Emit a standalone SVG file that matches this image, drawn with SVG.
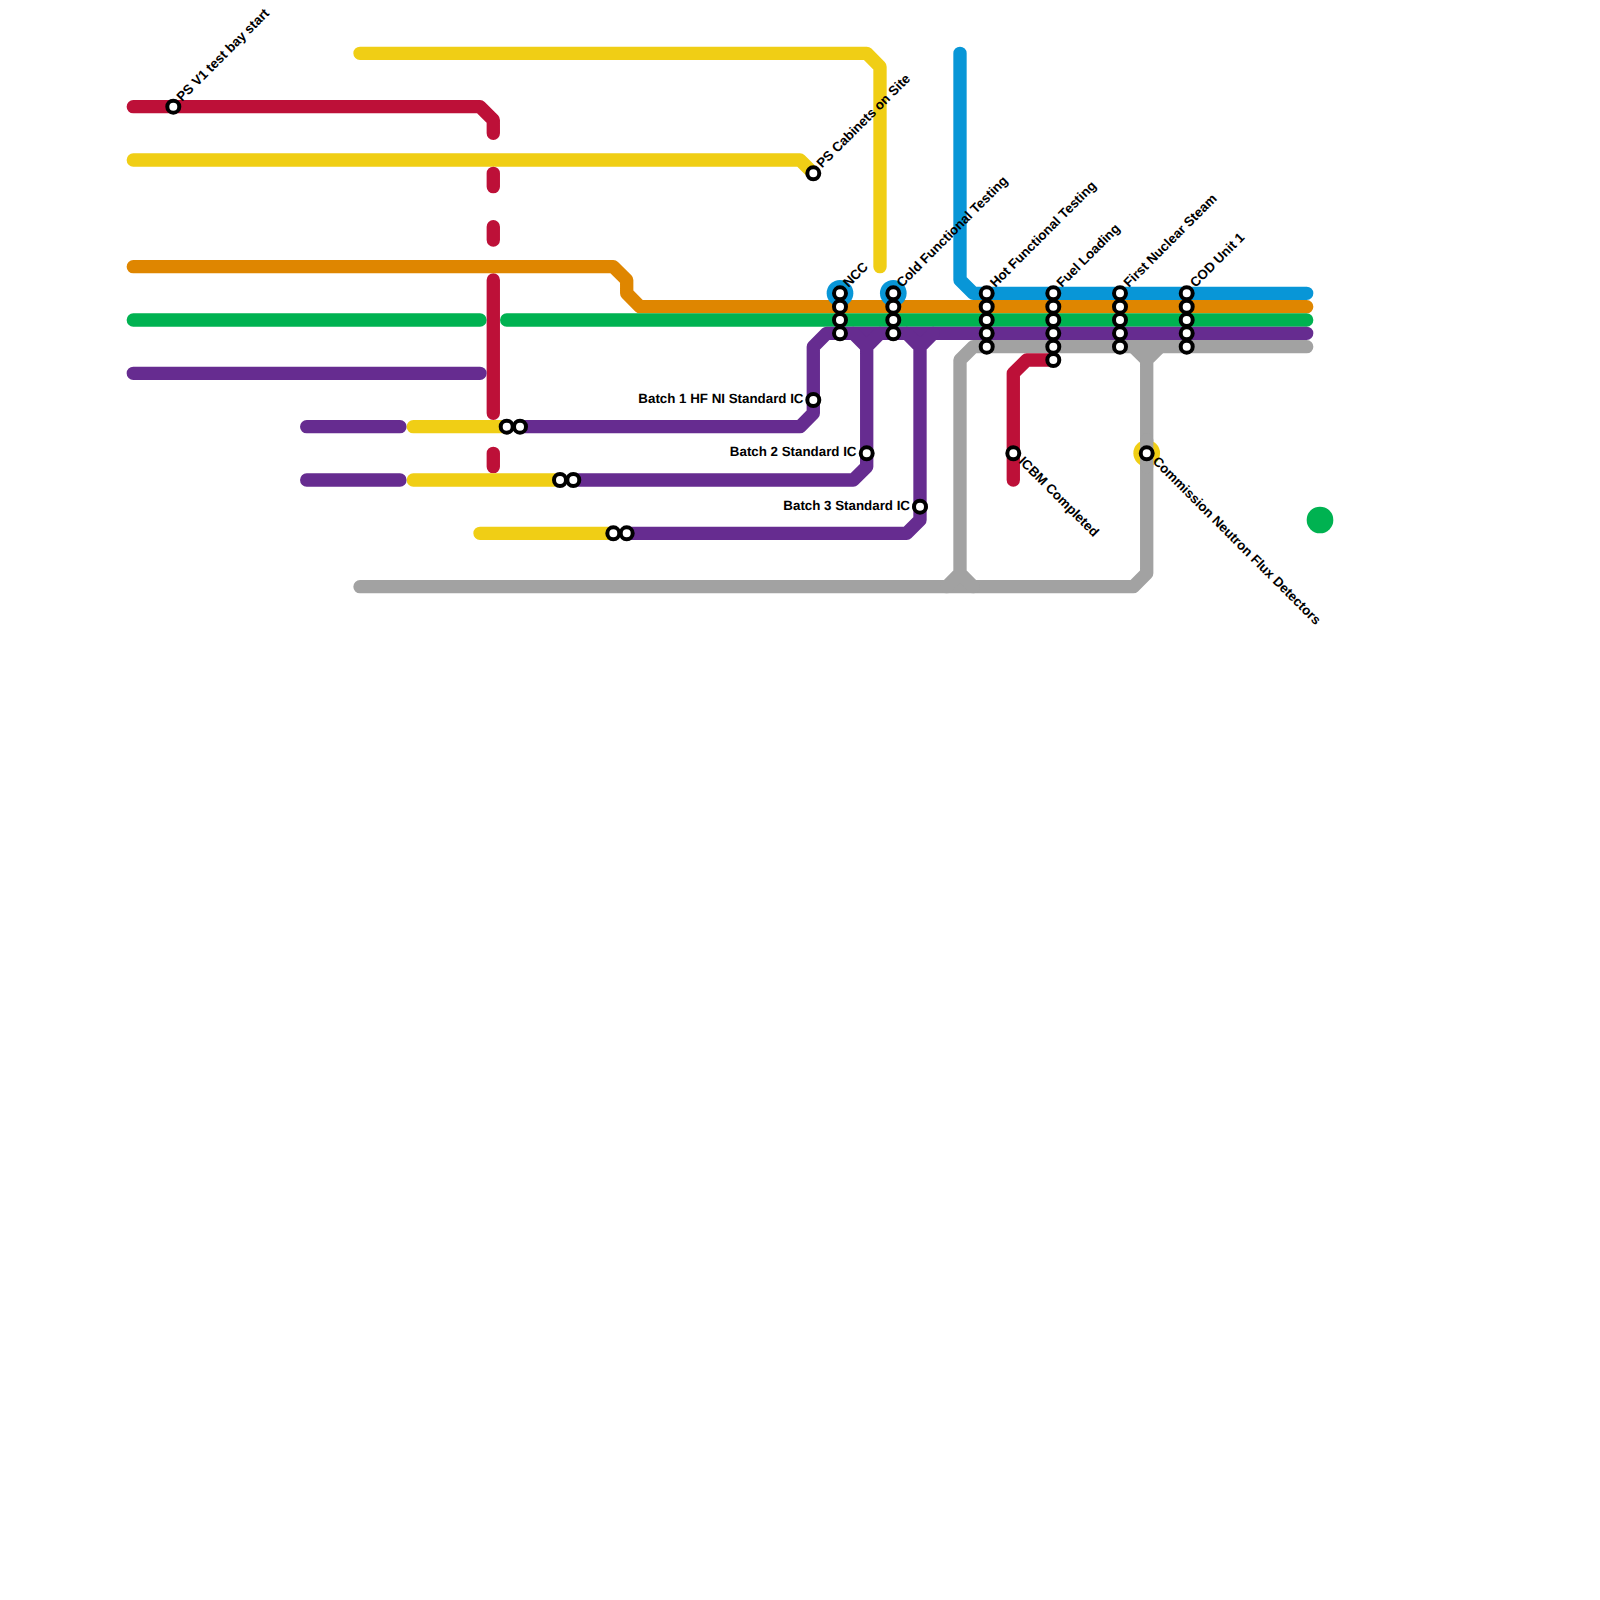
<svg xmlns="http://www.w3.org/2000/svg" width="1600" height="1600" viewBox="0 0 1600 1600">
<style>
.l{fill:none;stroke-width:13.33;stroke-linecap:round;stroke-linejoin:round}
.red{stroke:#bd1038}.yel{stroke:#f0ce15}.ora{stroke:#df8600}.gre{stroke:#00b251}.pur{stroke:#662c90}.gry{stroke:#a2a2a2}.blu{stroke:#0896d7}
.s{fill:#fff;stroke:#000;stroke-width:4}
text{font-family:"Liberation Sans",Arial,sans-serif;font-size:13.33px;font-weight:700;fill:#000;text-rendering:geometricPrecision}
</style>
<rect width="1600" height="1600" fill="#fff"/>
<g id="connectors">
<path class="l blu" d="M960 53.3V280L973.3 293.3H1306.7"/>
<path class="l yel" d="M360 53.3H866.7L880 66.7V266.7"/>
<path class="l yel" d="M133.3 160H800L813.3 173.3"/>
<path class="l red" d="M133.3 106.7H480L493.3 120V133.3"/>
<path class="l red" d="M493.3 173.3V186.7M493.3 226.7V240M493.3 280V413.3M493.3 453.3V466.7"/>
<path class="l ora" d="M133.3 266.7H613.3L626.7 280V293.3L640 306.7H1306.7"/>
<path class="l gre" d="M133.3 320H480M506.7 320H1306.7"/>
<path class="l pur" d="M133.3 373.3H480M306.7 426.7H400M306.7 480H400"/>
<path class="l yel" d="M413.3 426.7H506.7M413.3 480H560M480 533.3H613.3"/>
<path class="l pur" d="M520 426.7H800L813.3 413.3V346.7L826.7 333.3H1306.7"/>
<path class="l pur" d="M573.3 480H853.3L866.7 466.7V346.7L853.3 333.3M866.7 346.7L880 333.3"/>
<path class="l pur" d="M626.7 533.3H906.7L920 520V346.7L906.7 333.3M920 346.7L933.3 333.3"/>
<path class="l gry" d="M360 586.7H1133.3L1146.7 573.3V360L1133.3 346.7M1146.7 360L1160 346.7"/>
<path class="l gry" d="M946.7 586.7L960 573.3V360L973.3 346.7H1306.7M960 573.3L973.3 586.7"/>
<path class="l red" d="M1013.3 480V373.3L1026.7 360H1053.3"/>
</g>
<g id="node-ps-v1"><circle class="s" cx="173.3" cy="106.7" r="6"/><text transform="translate(182 102) rotate(-45)">PS V1 test bay start</text></g>
<g id="node-ps-cabinets"><circle class="s" cx="813.3" cy="173.3" r="6"/><text transform="translate(822 168.5) rotate(-45)">PS Cabinets on Site</text></g>
<g id="node-ncc"><circle cx="840" cy="293.3" r="13.33" fill="#0896d7"/><circle class="s" cx="840" cy="293.3" r="6"/><circle class="s" cx="840" cy="306.7" r="6"/><circle class="s" cx="840" cy="320" r="6"/><circle class="s" cx="840" cy="333.3" r="6"/><text transform="translate(848.5 288) rotate(-45)">NCC</text></g>
<g id="node-cold"><circle cx="893.3" cy="293.3" r="13.33" fill="#0896d7"/><circle class="s" cx="893.3" cy="293.3" r="6"/><circle class="s" cx="893.3" cy="306.7" r="6"/><circle class="s" cx="893.3" cy="320" r="6"/><circle class="s" cx="893.3" cy="333.3" r="6"/><text transform="translate(902 288) rotate(-45)">Cold Functional Testing</text></g>
<g id="node-hot"><circle class="s" cx="986.7" cy="293.3" r="6"/><circle class="s" cx="986.7" cy="306.7" r="6"/><circle class="s" cx="986.7" cy="320" r="6"/><circle class="s" cx="986.7" cy="333.3" r="6"/><circle class="s" cx="986.7" cy="346.7" r="6"/><text transform="translate(995.5 288) rotate(-45)">Hot Functional Testing</text></g>
<g id="node-fuel"><circle class="s" cx="1053.3" cy="293.3" r="6"/><circle class="s" cx="1053.3" cy="306.7" r="6"/><circle class="s" cx="1053.3" cy="320" r="6"/><circle class="s" cx="1053.3" cy="333.3" r="6"/><circle class="s" cx="1053.3" cy="346.7" r="6"/><circle class="s" cx="1053.3" cy="360" r="6"/><text transform="translate(1062 288) rotate(-45)">Fuel Loading</text></g>
<g id="node-steam"><circle class="s" cx="1120" cy="293.3" r="6"/><circle class="s" cx="1120" cy="306.7" r="6"/><circle class="s" cx="1120" cy="320" r="6"/><circle class="s" cx="1120" cy="333.3" r="6"/><circle class="s" cx="1120" cy="346.7" r="6"/><text transform="translate(1129 288) rotate(-45)">First Nuclear Steam</text></g>
<g id="node-cod"><circle class="s" cx="1186.7" cy="293.3" r="6"/><circle class="s" cx="1186.7" cy="306.7" r="6"/><circle class="s" cx="1186.7" cy="320" r="6"/><circle class="s" cx="1186.7" cy="333.3" r="6"/><circle class="s" cx="1186.7" cy="346.7" r="6"/><text transform="translate(1195.5 288) rotate(-45)">COD Unit 1</text></g>
<g id="node-batch1"><circle class="s" cx="813.3" cy="400" r="6"/><text x="803.5" y="403" text-anchor="end">Batch 1 HF NI Standard IC</text></g>
<g id="node-batch2"><circle class="s" cx="866.7" cy="453.3" r="6"/><text x="856.5" y="456" text-anchor="end">Batch 2 Standard IC</text></g>
<g id="node-batch3"><circle class="s" cx="920" cy="506.7" r="6"/><text x="910" y="509.5" text-anchor="end">Batch 3 Standard IC</text></g>
<g id="node-icbm"><circle class="s" cx="1013.3" cy="453.3" r="6"/><text transform="translate(1018 462) rotate(45)">ICBM Completed</text></g>
<g id="node-neutron"><circle cx="1146.7" cy="453.3" r="13.33" fill="#f0ce15"/><path class="l gry" d="M1146.7 440V466.7" stroke-linecap="butt"/><circle class="s" cx="1146.7" cy="453.3" r="6"/><text transform="translate(1152 462) rotate(45)">Commission Neutron Flux Detectors</text></g>
<g id="node-pairs"><circle class="s" cx="506.7" cy="426.7" r="6"/><circle class="s" cx="520" cy="426.7" r="6"/><circle class="s" cx="560" cy="480" r="6"/><circle class="s" cx="573.3" cy="480" r="6"/><circle class="s" cx="613.3" cy="533.3" r="6"/><circle class="s" cx="626.7" cy="533.3" r="6"/></g>
<g id="node-green"><circle cx="1320" cy="520" r="13.33" fill="#00b251"/></g>
</svg>
